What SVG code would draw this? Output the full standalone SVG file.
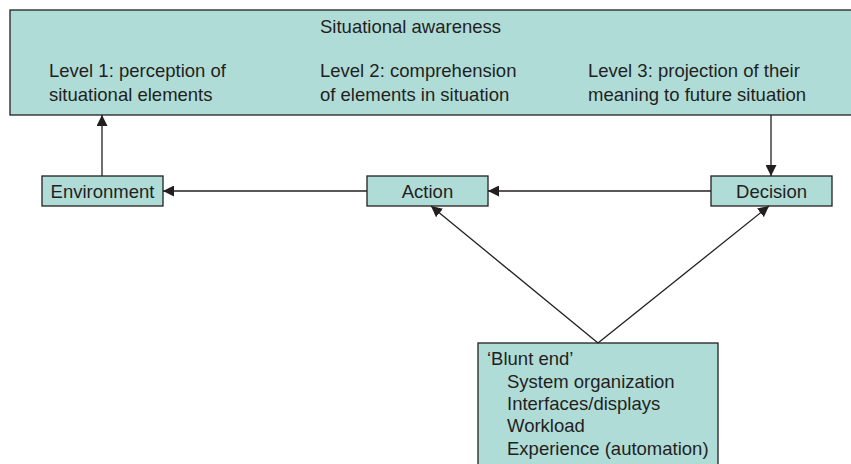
<svg xmlns="http://www.w3.org/2000/svg" width="851" height="464" viewBox="0 0 851 464">
<style>
.box{fill:#b0dcd8;stroke:#231f20;stroke-width:1.3}
text{font-family:"Liberation Sans",Arial,sans-serif;font-size:18.5px;fill:#231f20}
.c{stroke:#231f20;stroke-width:1.3;fill:none}
</style>
<defs>
<marker id="ah" viewBox="0 0 10 10" refX="10" refY="5" markerWidth="11" markerHeight="11" markerUnits="userSpaceOnUse" orient="auto">
<path d="M0,0 L10,5 L0,10 Z" fill="#231f20"/>
</marker>
</defs>
<g id="sa">
<rect class="box" x="10" y="10" width="850" height="105"/>
<text x="320" y="33">Situational awareness</text>
<text x="49" y="77">Level 1: perception of</text>
<text x="49" y="101">situational elements</text>
<text x="320" y="77">Level 2: comprehension</text>
<text x="320" y="101">of elements in situation</text>
<text x="588" y="77">Level 3: projection of their</text>
<text x="588" y="101">meaning to future situation</text>
</g>
<g id="environment">
<rect class="box" x="42" y="176" width="121" height="30"/>
<text x="102.5" y="198" text-anchor="middle">Environment</text>
</g>
<g id="action">
<rect class="box" x="367" y="176" width="121" height="30"/>
<text x="427.5" y="198" text-anchor="middle">Action</text>
</g>
<g id="decision">
<rect class="box" x="711" y="176" width="121" height="30"/>
<text x="771.5" y="198" text-anchor="middle">Decision</text>
</g>
<g id="blunt">
<rect class="box" x="478" y="343" width="240" height="130"/>
<text x="487" y="365">‘Blunt end’</text>
<text x="507" y="388">System organization</text>
<text x="507" y="410">Interfaces/displays</text>
<text x="507" y="432">Workload</text>
<text x="507" y="455">Experience (automation)</text>
</g>
<g id="connectors">
<path class="c" d="M102,176 V115" marker-end="url(#ah)"/>
<path class="c" d="M771,115 V176" marker-end="url(#ah)"/>
<path class="c" d="M367,191 H163" marker-end="url(#ah)"/>
<path class="c" d="M711,191 H488" marker-end="url(#ah)"/>
<path class="c" d="M598,343 L431,206" marker-end="url(#ah)"/>
<path class="c" d="M598,343 L769,206" marker-end="url(#ah)"/>
</g>
</svg>
